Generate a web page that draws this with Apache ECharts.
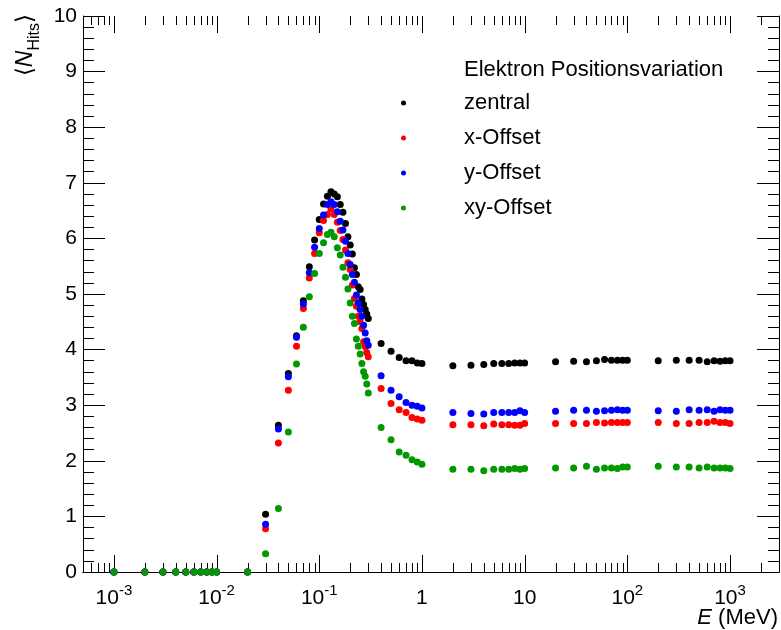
<!DOCTYPE html>
<html>
<head>
<meta charset="utf-8">
<script src="https://cdn.jsdelivr.net/npm/echarts@6/dist/echarts.min.js"></script>
<style>
  html, body { margin: 0; padding: 0; background: #ffffff; }
  #chart { width: 781px; height: 630px; }
</style>
</head>
<body>
<div id="chart"></div>
<script>
// Beam energy in MeV
const energies = [
  0.001, 0.002, 0.003, 0.004, 0.005, 0.006, 0.007, 0.008, 0.009,
  0.01, 0.02, 0.03, 0.04, 0.05, 0.06, 0.07, 0.08, 0.09,
  0.10, 0.11, 0.12, 0.13, 0.14, 0.15, 0.16, 0.17, 0.18, 0.19, 0.20,
  0.21, 0.22, 0.23, 0.24, 0.25, 0.26, 0.27, 0.28, 0.29, 0.30,
  0.4, 0.5, 0.6, 0.7, 0.8, 0.9,
  1, 2, 3, 4, 5, 6, 7, 8, 9,
  10, 20, 30, 40, 50, 60, 70, 80, 90,
  100, 200, 300, 400, 500, 600, 700, 800, 900,
  1000
];

// Mean number of hits per electron position
const zentral = [
  0, 0, 0, 0, 0, 0, 0, 0, 0,
  0, 0, 1.04, 2.64, 3.57, 4.25, 4.88, 5.49, 5.97,
  6.34, 6.62, 6.76, 6.84, 6.80, 6.75, 6.61, 6.47, 6.27, 6.03, 5.88,
  5.72, 5.47, 5.35, 5.13, 5.08, 4.91, 4.81, 4.72, 4.64, 4.56,
  4.11, 3.97, 3.86, 3.80, 3.80, 3.76,
  3.75, 3.71, 3.72, 3.73, 3.75, 3.75, 3.75, 3.76, 3.76,
  3.76, 3.78, 3.79, 3.78, 3.80, 3.82, 3.81, 3.81, 3.81,
  3.81, 3.80, 3.81, 3.81, 3.81, 3.78, 3.80, 3.79, 3.80,
  3.80
];
const xOffset = [
  0, 0, 0, 0, 0, 0, 0, 0, 0,
  0, 0, 0.78, 2.32, 3.27, 4.06, 4.74, 5.29, 5.73,
  6.10, 6.32, 6.43, 6.53, 6.43, 6.29, 6.14, 5.98, 5.79, 5.56, 5.44,
  5.16, 4.92, 4.78, 4.60, 4.50, 4.38, 4.14, 4.05, 3.95, 3.87,
  3.30, 3.03, 2.92, 2.87, 2.78, 2.75,
  2.73, 2.65, 2.65, 2.63, 2.66, 2.65, 2.65, 2.64, 2.64,
  2.67, 2.67, 2.67, 2.67, 2.69, 2.68, 2.69, 2.69, 2.69,
  2.69, 2.69, 2.67, 2.67, 2.69, 2.69, 2.71, 2.69, 2.69,
  2.67
];
const yOffset = [
  0, 0, 0, 0, 0, 0, 0, 0, 0,
  0, 0, 0.86, 2.57, 3.51, 4.22, 4.82, 5.38, 5.84,
  6.18, 6.42, 6.61, 6.66, 6.61, 6.48, 6.31, 6.15, 5.95, 5.73, 5.53,
  5.35, 5.21, 4.98, 4.84, 4.72, 4.60, 4.44, 4.30, 4.16, 4.08,
  3.53, 3.27, 3.15, 3.05, 3.00, 2.98,
  2.95, 2.87, 2.85, 2.84, 2.87, 2.87, 2.87, 2.87, 2.90,
  2.87, 2.89, 2.91, 2.91, 2.89, 2.90, 2.91, 2.92, 2.91,
  2.91, 2.90, 2.89, 2.92, 2.91, 2.92, 2.89, 2.92, 2.91,
  2.91
];
const xyOffset = [
  0, 0, 0, 0, 0, 0, 0, 0, 0,
  0, 0, 0.33, 1.14, 2.52, 3.74, 4.40, 4.95, 5.37,
  5.73, 5.92, 6.07, 6.11, 6.03, 5.83, 5.70, 5.48, 5.30, 5.09, 4.84,
  4.60, 4.47, 4.19, 4.06, 3.92, 3.75, 3.60, 3.52, 3.38, 3.22,
  2.60, 2.38, 2.16, 2.10, 2.02, 1.98,
  1.94, 1.85, 1.85, 1.82, 1.85, 1.85, 1.85, 1.86, 1.85,
  1.86, 1.87, 1.87, 1.90, 1.85, 1.87, 1.87, 1.86, 1.89,
  1.89, 1.90, 1.89, 1.89, 1.87, 1.89, 1.87, 1.87, 1.87,
  1.86
];

const seriesNames = ['zentral', 'x-Offset', 'y-Offset', 'xy-Offset'];
const seriesValues = [zentral, xOffset, yOffset, xyOffset];
const seriesColors = ['#000000', '#ff0000', '#0000ff', '#009900'];

const legendTitle = 'Elektron Positionsvariation';

// Axis ranges and tick labels
const xMin = 5e-4, xMax = 3000;
const yMin = 0, yMax = 10;
const xMajorTicks = [1e-3, 1e-2, 1e-1, 1, 10, 100, 1000];
const xTickLabels = ['{b|10}{s|-3}', '{b|10}{s|-2}', '{b|10}{s|-1}', '{b|1}', '{b|10}', '{b|10}{s|2}', '{b|10}{s|3}'];

const FONT = '"Liberation Sans", Arial, Helvetica, sans-serif';
const FS = 21;
const LEG_FS = 22;

// Log-spaced minor ticks (2..9 in every decade) inside the x range
const xMinorTicks = [];
for (let d = -4; d <= 3; d++) {
  for (let m = 2; m <= 9; m++) {
    const v = m * Math.pow(10, d);
    if (v > xMin * 1.0001 && v < xMax * 0.9999) xMinorTicks.push(v);
  }
}
const tickData = xMajorTicks.map(v => [v, 1]).concat(xMinorTicks.map(v => [v, 0]));

function xLabel(value) {
  const lg = Math.log10(value);
  for (let i = 0; i < xMajorTicks.length; i++) {
    if (Math.abs(lg - Math.log10(xMajorTicks[i])) < 1e-6) return xTickLabels[i];
  }
  return '';
}

const chart = echarts.init(document.getElementById('chart'), null, { renderer: 'canvas' });

const scatterSeries = seriesNames.map((name, k) => ({
  type: 'scatter',
  name: name,
  data: energies.map((e, i) => [e, seriesValues[k][i]]),
  symbol: 'circle',
  symbolSize: 7,
  itemStyle: { color: seriesColors[k], opacity: 1 },
  clip: false,
  silent: true,
  z: 3 + k
}));

const tickSeries = {
  type: 'custom',
  name: 'ticks',
  data: tickData,
  silent: true,
  clip: false,
  z: 2,
  renderItem: function (params, api) {
    const v = api.value(0);
    const len = api.value(1) === 1 ? 17 : 9;
    const b = api.coord([v, yMin]);
    const t = api.coord([v, yMax]);
    const x = Math.round(b[0]) + 0.5;
    return {
      type: 'group',
      children: [
        { type: 'line', shape: { x1: x, y1: b[1], x2: x, y2: b[1] - len }, style: { stroke: '#000', lineWidth: 1 } },
        { type: 'line', shape: { x1: x, y1: t[1], x2: x, y2: t[1] + len }, style: { stroke: '#000', lineWidth: 1 } }
      ]
    };
  }
};

const yAxisBase = {
  type: 'value',
  min: yMin,
  max: yMax,
  interval: 1,
  axisLine: { show: true, lineStyle: { color: '#000', width: 1 } },
  axisTick: { show: true, inside: true, length: 22, lineStyle: { color: '#000', width: 1 } },
  minorTick: { show: true, splitNumber: 5, length: 11, lineStyle: { color: '#000', width: 1 } },
  splitLine: { show: false },
  minorSplitLine: { show: false }
};

const xAxisBase = {
  type: 'log',
  logBase: 10,
  min: xMin,
  max: xMax,
  axisLine: { show: true, lineStyle: { color: '#000', width: 1 } },
  axisTick: { show: false },
  minorTick: { show: false },
  splitLine: { show: false },
  minorSplitLine: { show: false }
};

chart.setOption({
  animation: false,
  backgroundColor: '#ffffff',
  textStyle: { fontFamily: FONT },
  grid: { left: 83, right: 2, top: 16, bottom: 58, containLabel: false, outerBoundsMode: 'none' },
  xAxis: [
    Object.assign({}, xAxisBase, {
      position: 'bottom',
      axisLabel: {
        show: true,
        interval: 0,
        margin: 11,
        color: '#000',
        fontFamily: FONT,
        formatter: xLabel,
        rich: {
          b: { fontSize: FS, lineHeight: 30, color: '#000', fontFamily: FONT },
          s: { fontSize: 15, lineHeight: 15, verticalAlign: 'top', color: '#000', fontFamily: FONT }
        }
      }
    }),
    Object.assign({}, xAxisBase, { position: 'top', axisLabel: { show: false } })
  ],
  yAxis: [
    Object.assign({}, yAxisBase, {
      position: 'left',
      axisLabel: { show: true, fontSize: FS, color: '#000', margin: 6, fontFamily: FONT }
    }),
    Object.assign({}, yAxisBase, { position: 'right', axisLabel: { show: false } })
  ],
  legend: {
    data: seriesNames,
    orient: 'vertical',
    left: 401,
    top: 92,
    padding: 0,
    icon: 'circle',
    itemWidth: 5,
    itemHeight: 5,
    itemGap: 13,
    selectedMode: false,
    itemStyle: { borderWidth: 0 },
    formatter: name => '{t|' + name + '}',
    textStyle: {
      fontSize: LEG_FS,
      color: '#000',
      fontFamily: FONT,
      rich: { t: { fontSize: LEG_FS, lineHeight: 24, padding: [0, 0, 0, 53], color: '#000', fontFamily: FONT } }
    }
  },
  graphic: [
    {
      type: 'text',
      x: 464,
      y: 70,
      silent: true,
      style: {
        text: legendTitle,
        fontSize: LEG_FS,
        fontFamily: FONT,
        fill: '#000',
        align: 'left',
        verticalAlign: 'middle'
      }
    },
    {
      type: 'text',
      x: 778,
      y: 618,
      silent: true,
      style: {
        text: '{i|E} (MeV)',
        fontSize: 22,
        fontFamily: FONT,
        fill: '#000',
        align: 'right',
        verticalAlign: 'middle',
        rich: { i: { fontSize: 22, fontStyle: 'italic', fontFamily: FONT, fill: '#000' } }
      }
    },
    {
      type: 'text',
      x: 26,
      y: 14,
      rotation: Math.PI / 2,
      silent: true,
      style: {
        text: '{a|\u27E8}{n|N}{s|Hits}{a|\u27E9}',
        fontSize: 23,
        fontFamily: FONT,
        fill: '#000',
        align: 'right',
        verticalAlign: 'middle',
        rich: {
          a: { fontSize: 23, lineHeight: 34, fontFamily: FONT, fill: '#000' },
          n: { fontSize: 23, lineHeight: 34, fontStyle: 'italic', fontFamily: FONT, fill: '#000' },
          s: { fontSize: 16, lineHeight: 16, verticalAlign: 'bottom', fontFamily: FONT, fill: '#000' }
        }
      }
    }
  ],
  series: [tickSeries].concat(scatterSeries)
});
</script>
</body>
</html>
